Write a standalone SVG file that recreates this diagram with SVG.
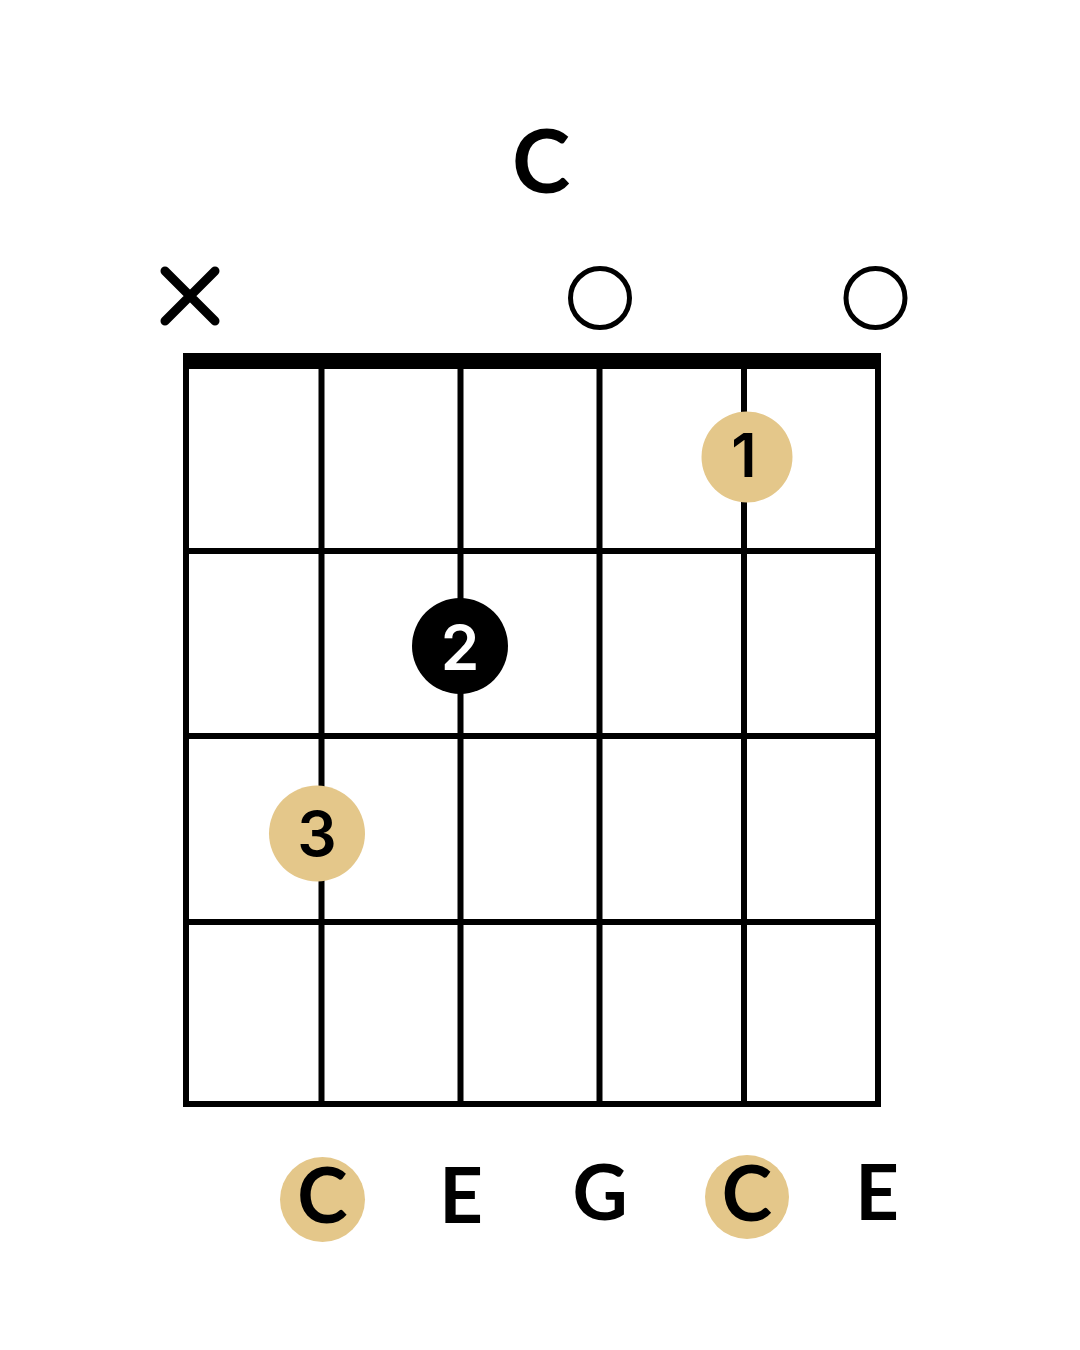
<svg xmlns="http://www.w3.org/2000/svg" width="1080" height="1350" viewBox="0 0 1080 1350">
  <style>
    .grid line { stroke: #000; stroke-width: 6; }
    .lbl { font-family: Lato, "Noto Sans", "Liberation Sans", sans-serif; font-weight: 700; text-anchor: middle; fill: #000; }
    .num { font-family: Inter, Lato, "Noto Sans", "Liberation Sans", sans-serif; font-weight: 600; text-anchor: middle; }
    .gold { fill: #E4C78A; }
    .open { fill: none; stroke: #000; stroke-width: 5; }
  </style>
  <rect width="1080" height="1350" fill="#fff"/>

  <g id="title">
    <text class="lbl" x="541" y="193" font-size="88">C</text>
  </g>

  <g id="grid" class="grid">
    <rect x="183" y="353" width="698" height="16" fill="#000"/>
    <line x1="186" y1="365" x2="186" y2="1107"/>
    <line x1="321.5" y1="365" x2="321.5" y2="1107"/>
    <line x1="460.5" y1="365" x2="460.5" y2="1107"/>
    <line x1="599.5" y1="365" x2="599.5" y2="1107"/>
    <line x1="744" y1="365" x2="744" y2="1107"/>
    <line x1="878" y1="365" x2="878" y2="1107"/>
    <line x1="183" y1="551" x2="881" y2="551"/>
    <line x1="183" y1="736" x2="881" y2="736"/>
    <line x1="183" y1="922" x2="881" y2="922"/>
    <line x1="183" y1="1104" x2="881" y2="1104" stroke-width="7"/>
  </g>

  <g id="mute-string6">
    <path d="M165 271 L215 321 M215 271 L165 321" stroke="#000" stroke-width="9" stroke-linecap="round" fill="none"/>
  </g>
  <g id="open-string3">
    <circle class="open" cx="600" cy="298" r="29.5"/>
  </g>
  <g id="open-string1">
    <circle class="open" cx="875.5" cy="298" r="29.5"/>
  </g>

  <g id="finger-1">
    <circle class="gold" cx="747" cy="457" r="45.5"/>
    <text class="num" x="744" y="477" font-size="60" fill="#000" font-weight="700">1</text>
  </g>
  <g id="finger-2">
    <circle cx="460" cy="646" r="48" fill="#000"/>
    <text class="num" x="460" y="670" font-size="62" fill="#fff" font-weight="700">2</text>
  </g>
  <g id="finger-3">
    <circle class="gold" cx="317" cy="833.5" r="48"/>
    <text class="num" x="317" y="856" font-size="62" fill="#000">3</text>
  </g>

  <g id="note-5">
    <circle class="gold" cx="322.5" cy="1199.5" r="42.5"/>
    <text class="lbl" x="322.5" y="1223" font-size="76">C</text>
  </g>
  <g id="note-4">
    <text class="lbl" x="461" y="1223" font-size="76">E</text>
  </g>
  <g id="note-3">
    <text class="lbl" x="600" y="1220" font-size="76">G</text>
  </g>
  <g id="note-2">
    <circle class="gold" cx="747" cy="1197" r="42"/>
    <text class="lbl" x="747" y="1221" font-size="76">C</text>
  </g>
  <g id="note-1">
    <text class="lbl" x="877" y="1220" font-size="76">E</text>
  </g>
</svg>
